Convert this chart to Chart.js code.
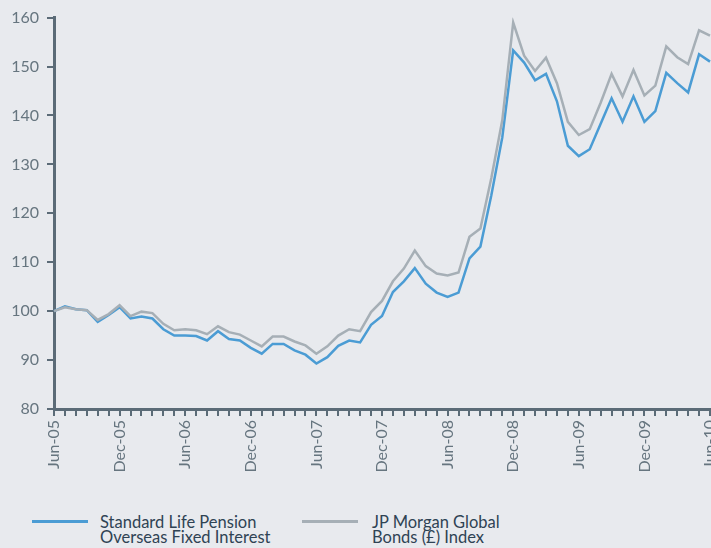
<!DOCTYPE html>
<html>
<head>
<meta charset="utf-8">
<script src="https://cdn.jsdelivr.net/npm/chart.js@4/dist/chart.umd.min.js"></script>
<style>
  html, body { margin: 0; padding: 0; background: #e8eaee; }
  #wrap { position: relative; width: 711px; height: 548px; background: #e8eaee; overflow: hidden; }
  #cv { position: absolute; left: 0; top: 0; }
  .leg { position: absolute; font-family: Lato, "Open Sans", sans-serif; font-size: 16.5px; line-height: 15px; color: #2f4354; }
  .sw { position: absolute; height: 3px; }
</style>
</head>
<body>
<div id="wrap">
  <canvas id="cv" width="711" height="490"></canvas>
  <div class="sw" style="left:32px;top:520px;width:56px;background:#4b9cd4;"></div>
  <div class="leg" style="left:100px;top:515px;">Standard Life Pension<br>Overseas Fixed Interest</div>
  <div class="sw" style="left:302px;top:520px;width:56px;background:#a6afb6;"></div>
  <div class="leg" style="left:372px;top:515px;">JP Morgan Global<br>Bonds (£) Index</div>
</div>
<script>
const months = [
  "Jun-05","Jul-05","Aug-05","Sep-05","Oct-05","Nov-05","Dec-05",
  "Jan-06","Feb-06","Mar-06","Apr-06","May-06","Jun-06","Jul-06","Aug-06","Sep-06","Oct-06","Nov-06","Dec-06",
  "Jan-07","Feb-07","Mar-07","Apr-07","May-07","Jun-07","Jul-07","Aug-07","Sep-07","Oct-07","Nov-07","Dec-07",
  "Jan-08","Feb-08","Mar-08","Apr-08","May-08","Jun-08","Jul-08","Aug-08","Sep-08","Oct-08","Nov-08","Dec-08",
  "Jan-09","Feb-09","Mar-09","Apr-09","May-09","Jun-09","Jul-09","Aug-09","Sep-09","Oct-09","Nov-09","Dec-09",
  "Jan-10","Feb-10","Mar-10","Apr-10","May-10","Jun-10"
];
const shownLabels = ["Jun-05","Dec-05","Jun-06","Dec-06","Jun-07","Dec-07","Jun-08","Dec-08","Jun-09","Dec-09","Jun-10"];
const standardLife = [
  100.0, 101.0, 100.4, 100.2, 97.8, 99.2, 100.8,
  98.5, 98.9, 98.5, 96.3, 95.0, 95.0, 94.9, 94.0, 95.9, 94.3, 94.0, 92.5,
  91.3, 93.3, 93.3, 92.0, 91.1, 89.3, 90.6, 92.9, 94.0, 93.6, 97.2, 99.0,
  103.9, 106.1, 108.8, 105.6, 103.8, 102.9, 103.8, 110.8, 113.2, 123.7, 135.5, 153.3,
  150.8, 147.2, 148.5, 142.9, 133.8, 131.7, 133.1, 138.3, 143.5, 138.7, 143.9, 138.7,
  140.9, 148.7, 146.6, 144.7, 152.5, 151.0
];
const jpMorgan = [
  100.0, 100.8, 100.4, 100.2, 98.2, 99.4, 101.2,
  99.0, 99.9, 99.6, 97.4, 96.1, 96.3, 96.1, 95.3, 96.9, 95.7, 95.2, 94.0,
  92.8, 94.8, 94.8, 93.8, 93.0, 91.3, 92.8, 95.0, 96.3, 95.9, 99.8, 102.1,
  106.1, 108.7, 112.4, 109.2, 107.7, 107.3, 107.9, 115.2, 116.9, 127.2, 139.0, 159.0,
  152.2, 149.1, 151.8, 146.6, 138.7, 136.0, 137.2, 142.6, 148.5, 143.9, 149.3, 144.1,
  146.1, 154.1, 151.9, 150.5, 157.4, 156.3
];
const yTicks = [80, 90, 100, 110, 120, 130, 140, 150, 160];

const axisColor = '#5b6b77';
const tickColor = '#66757f';
const CANVAS_H = 490;

new Chart(document.getElementById('cv'), {
  type: 'line',
  data: {
    labels: months,
    datasets: [
      { label: 'JP Morgan Global Bonds (£) Index', data: jpMorgan, borderColor: '#a6afb6', borderWidth: 2.5, pointRadius: 0, tension: 0, fill: false },
      { label: 'Standard Life Pension Overseas Fixed Interest', data: standardLife, borderColor: '#4b9cd4', borderWidth: 2.5, pointRadius: 0, tension: 0, fill: false }
    ]
  },
  options: {
    responsive: false,
    animation: false,
    events: [],
    layout: { padding: { top: 14, right: 1, left: 0, bottom: 0 } },
    plugins: { legend: { display: false }, tooltip: { enabled: false } },
    scales: {
      x: {
        type: 'category',
        offset: false,
        border: { display: true, color: axisColor, width: 3 },
        grid: { display: true, drawOnChartArea: false, drawTicks: true, tickLength: 7, color: axisColor, lineWidth: 2 },
        ticks: {
          autoSkip: false, maxRotation: 90, minRotation: 90, padding: 4,
          color: tickColor, font: { family: 'Lato', size: 16 },
          callback: function (v, i) { const l = months[i]; return shownLabels.includes(l) ? l : ''; }
        },
        afterFit: function (s) { s.height = CANVAS_H - 409; s.paddingLeft = 0; s.paddingRight = 0; }
      },
      y: {
        min: 80, max: 160,
        afterBuildTicks: function (s) { s.ticks = yTicks.map(v => ({ value: v })); },
        border: { display: true, color: axisColor, width: 3 },
        grid: { display: true, drawOnChartArea: false, drawTicks: true, tickLength: 7, color: axisColor, lineWidth: 2 },
        ticks: { padding: 8, color: tickColor, font: { family: 'Lato', size: 16 } },
        afterFit: function (s) { s.width = 54; }
      }
    }
  }
});
</script>
</body>
</html>
